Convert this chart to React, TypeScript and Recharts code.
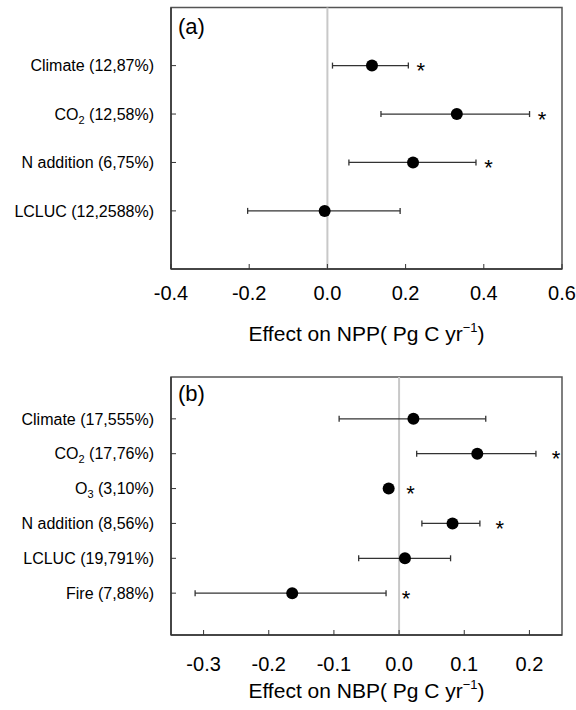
import React from "react";
import {
  ScatterChart,
  Scatter,
  XAxis,
  YAxis,
  ErrorBar,
  ReferenceLine,
  ReferenceArea,
} from "recharts";

// panel (a): effect on NPP
const nppNames = ["Climate", "CO_2", "N addition", "LCLUC"];
const nppShares = ["12,87%", "12,58%", "6,75%", "12,2588%"];
const nppMean = [0.114, 0.331, 0.219, -0.007];
const nppLow = [0.013, 0.137, 0.055, -0.204];
const nppHigh = [0.207, 0.517, 0.38, 0.186];
const nppSig = [true, true, true, false];
const nppTicks = [-0.4, -0.2, 0, 0.2, 0.4, 0.6];

// panel (b): effect on NBP
const nbpNames = ["Climate", "CO_2", "O_3", "N addition", "LCLUC", "Fire"];
const nbpShares = ["17,555%", "17,76%", "3,10%", "8,56%", "19,791%", "7,88%"];
const nbpMean = [0.022, 0.12, -0.016, 0.082, 0.009, -0.164];
const nbpLow = [-0.092, 0.027, -0.019, 0.035, -0.062, -0.313];
const nbpHigh = [0.133, 0.21, -0.013, 0.124, 0.079, -0.02];
const nbpSig = [false, true, true, true, false, true];
const nbpTicks = [-0.3, -0.2, -0.1, 0, 0.1, 0.2];

const FONT = "'Liberation Sans', Arial, sans-serif";

// "CO_2 (..)" -> CO with a subscript 2
const RowLabel = ({ x, y, label }: any) => {
  const m = label.match(/^(.*?)_(\d)(.*)$/);
  const common = {
    x,
    y,
    dy: "0.355em",
    textAnchor: "end" as const,
    fontSize: 16,
    fontFamily: FONT,
    fill: "#000",
  };
  if (!m) return <text {...common}>{label}</text>;
  return (
    <text {...common}>
      {m[1]}
      <tspan fontSize={11} dy={4}>
        {m[2]}
      </tspan>
      <tspan dy={-4}>{m[3]}</tspan>
    </text>
  );
};

const AxisTitle = ({ viewBox, text, gap }: any) => {
  const cx = viewBox.x + viewBox.width / 2;
  return (
    <text x={cx} y={viewBox.y + gap} textAnchor="middle" fontSize={21} fontFamily={FONT} fill="#000">
      {text}
      <tspan fontSize={13} dy={-9}>
        −1
      </tspan>
      <tspan dy={9}>)</tspan>
    </text>
  );
};

const PanelTag = ({ viewBox, tag, dy }: any) => (
  <text x={viewBox.x + viewBox.width + 7} y={viewBox.y + dy} fontSize={22} fontFamily={FONT} fill="#000">
    {tag}
  </text>
);

const Panel = ({
  names,
  shares,
  mean,
  low,
  high,
  sig,
  domain,
  ticks,
  height,
  top,
  plotH,
  title,
  tag,
  tagDy,
  titleGap,
  tickGap,
  starGap,
}: any) => {
  const n = names.length;
  const rows = names.map((_: string, i: number) => n - i);
  const labels = names.map((nm: string, i: number) => `${nm} (${shares[i]})`);
  const data = names.map((_: string, i: number) => ({
    x: mean[i],
    y: rows[i],
    err: [mean[i] - low[i], high[i] - mean[i]],
  }));
  const stars = names
    .map((_: string, i: number) => ({ x: high[i], y: rows[i] }))
    .filter((_: any, i: number) => sig[i]);
  const yDomain = [-0.2, n + 1.2];

  return (
    <ScatterChart width={576} height={height} margin={{ top, right: 14, bottom: 0, left: 0 }}>
      <XAxis
        type="number"
        dataKey="x"
        domain={domain}
        ticks={ticks}
        allowDataOverflow
        height={height - top - plotH}
        tickSize={-5}
        tickMargin={tickGap}
        tickFormatter={(v: number) => v.toFixed(1)}
        tick={{ fill: "#000", fontSize: 20, fontFamily: FONT }}
        stroke="#333"
        axisLine={{ stroke: "#333", strokeWidth: 1.5 }}
        tickLine={{ stroke: "#333" }}
        label={<AxisTitle text={title} gap={titleGap} />}
      />
      <YAxis
        type="number"
        dataKey="y"
        domain={yDomain}
        ticks={rows}
        allowDataOverflow
        width={171}
        tickSize={-5}
        tickMargin={22}
        axisLine={{ stroke: "#333", strokeWidth: 1.5 }}
        tickLine={{ stroke: "#333" }}
        tick={(p: any) => <RowLabel x={p.x} y={p.y} label={labels[n - p.payload.value]} />}
        label={<PanelTag tag={tag} dy={tagDy} />}
      />
      <ReferenceArea
        x1={domain[0]}
        x2={domain[1]}
        y1={yDomain[0]}
        y2={yDomain[1]}
        fill="none"
        stroke="#555"
        strokeWidth={1.5}
      />
      <ReferenceLine x={0} stroke="#c8c8c8" strokeWidth={2} />
      <Scatter
        data={data}
        isAnimationActive={false}
        shape={(p: any) => <circle cx={p.cx} cy={p.cy} r={6} fill="#000" />}
      >
        <ErrorBar dataKey="err" direction="x" width={3} stroke="#333" strokeWidth={1.3} isAnimationActive={false} />
      </Scatter>
      <Scatter
        data={stars}
        isAnimationActive={false}
        shape={(p: any) => (
          <text x={p.cx + starGap} y={p.cy + 12.5} textAnchor="middle" fontSize={22} fontFamily={FONT} fill="#000">
            *
          </text>
        )}
      />
    </ScatterChart>
  );
};

export default function App() {
  return (
    <div style={{ position: "absolute", left: 0, top: 0, width: 576, height: 710, background: "#fff" }}>
      <Panel
        names={nppNames}
        shares={nppShares}
        mean={nppMean}
        low={nppLow}
        high={nppHigh}
        sig={nppSig}
        domain={[-0.4, 0.6]}
        ticks={nppTicks}
        height={355}
        top={7.5}
        plotH={261.5}
        title="Effect on NPP( Pg C yr"
        tag="(a)"
        tagDy={26}
        titleGap={72}
        tickGap={22}
        starGap={12.5}
      />
      <Panel
        names={nbpNames}
        shares={nbpShares}
        mean={nbpMean}
        low={nbpLow}
        high={nbpHigh}
        sig={nbpSig}
        domain={[-0.35, 0.25]}
        ticks={nbpTicks}
        height={355}
        top={22}
        plotH={258}
        title="Effect on NBP( Pg C yr"
        tag="(b)"
        tagDy={24}
        titleGap={63}
        tickGap={27}
        starGap={20}
      />
    </div>
  );
}
